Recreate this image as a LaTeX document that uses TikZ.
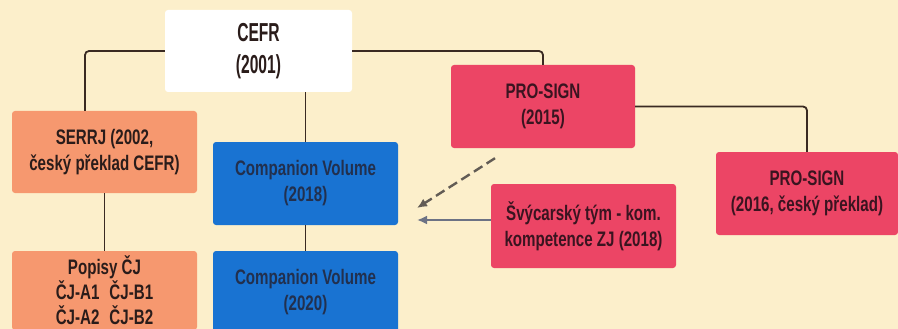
\documentclass[tikz,border=0pt]{standalone}
\usepackage{fontspec}
\setmainfont{Liberation Sans}[FakeStretch=0.72]
\newfontfamily\capsfont{Liberation Sans}[FakeStretch=0.6]
\usetikzlibrary{arrows.meta}
\definecolor{bg}{HTML}{FCEFCB}
\definecolor{orangebox}{HTML}{F6986F}
\definecolor{bluebox}{HTML}{1973D2}
\definecolor{redbox}{HTML}{EC4565}
\definecolor{txt}{HTML}{2A1C1A}
\definecolor{bluetxt}{HTML}{22304E}
\definecolor{redtxt}{HTML}{3A1420}
\definecolor{linec}{HTML}{3A2A22}
\definecolor{arrowgray}{HTML}{625C55}
\definecolor{arrowblue}{HTML}{6C7284}
\tikzset{
  box/.style={rounded corners=3pt, minimum width=185pt, minimum height=83pt,
    inner sep=0pt, align=center, text=txt,
    font=\bfseries\fontsize{21}{26}\selectfont},
  whitebox/.style={box, fill=white, minimum width=187pt, minimum height=82pt,
    font=\capsfont\bfseries\fontsize{26}{32}\selectfont},
  orangenode/.style={box, fill=orangebox},
  bluenode/.style={box, fill=bluebox, text=bluetxt},
  rednode/.style={box, fill=redbox, text=redtxt},
  conn/.style={draw=linec, line width=1.8pt, rounded corners=4pt},
  dasharrow/.style={draw=arrowgray, line width=2.4pt, dash pattern=on 10pt off 5pt,
    -{Latex[length=10pt,width=9pt]}},
  solidarrow/.style={draw=arrowblue, line width=2pt,
    -{Latex[length=10pt,width=9pt]}}
}
\begin{document}
\begin{tikzpicture}[x=1pt,y=-1pt]
\useasboundingbox (0,0) rectangle (898,329);
\fill[bg] (0,0) rectangle (898,329);

\node[whitebox] (cefr) at (258.5,51) {CEFR\\(2001)};
\node[orangenode, minimum height=82pt] (serrj) at (104.5,152) {SERRJ (2002,\\český překlad CEFR)};
\node[orangenode, minimum height=79pt] (popisy) at (104.5,290.5)
  {Popisy ČJ\\[-1pt]ČJ-A1\hspace{10pt}ČJ-B1\\[-1pt]ČJ-A2\hspace{10pt}ČJ-B2};
\node[bluenode] (cv18) at (305.5,183.5) {Companion Volume\\(2018)};
\node[bluenode, minimum height=83pt] (cv20) at (305.5,292.5) {Companion Volume\\(2020)};
\node[rednode, minimum width=184pt] (ps15) at (543,106.5) {PRO-SIGN\\(2015)};
\node[rednode, minimum width=182pt] (ps16) at (807,193.5) {PRO-SIGN\\(2016, český překlad)};
\node[rednode, minimum height=84pt] (svy) at (583.5,226) {Švýcarský tým - kom.\\kompetence ZJ (2018)};

\coordinate (dashend) at (417,208);
\coordinate (solidend) at (417,220);

\draw[conn] (cefr.west) -| ([xshift=-19.5pt]serrj.north);
\draw[conn] (cefr.east) -| (ps15.north);
\draw[conn] (cv18.north |- cefr.south) -- (cv18.north);
\draw[conn] (serrj.south) -- (popisy.north);
\draw[conn] (cv18.south) -- (cv18.south |- cv20.north);
\draw[conn] (ps15.east) -| (ps16.north);

\draw[dasharrow] ([xshift=-48pt,yshift=-10pt]ps15.south) -- (dashend);
\draw[solidarrow] (svy.west |- solidend) -- (solidend);
\end{tikzpicture}
\end{document}
